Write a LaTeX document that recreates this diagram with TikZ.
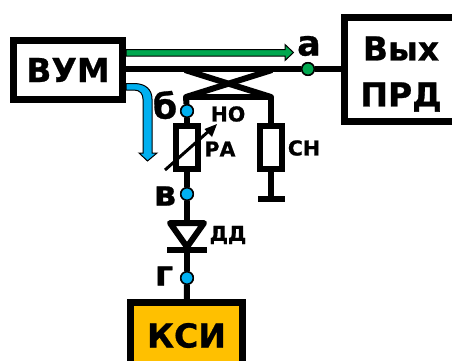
\documentclass[tikz,border=0pt]{standalone}
\usepackage{fontspec}
\setmainfont[BoldFeatures={FakeBold=0.8}]{DejaVu Sans}
\usetikzlibrary{positioning}
\definecolor{dotgreen}{HTML}{00A84F}
\definecolor{dotblue}{HTML}{00B0F0}
\definecolor{boxyellow}{HTML}{FFC000}
\tikzstyle{block} = [rectangle, line width=7pt, draw=black, fill=white, inner sep=0pt, align=center, font=\bfseries\fontsize{33}{41}\selectfont]
\tikzstyle{resistor} = [rectangle, line width=6pt, draw=black, fill=white, minimum width=22pt, minimum height=43pt, inner sep=0pt]
\tikzstyle{point} = [circle, line width=1.5pt, draw=black, inner sep=0pt, minimum size=12.5pt]
\tikzstyle{wire} = [line width=6pt, draw=black]
\tikzstyle{bigtext} = [inner sep=0pt, font=\bfseries\fontsize{35}{40}\selectfont]
\tikzstyle{smalltext} = [inner sep=0pt, font=\bfseries\fontsize{20.5}{24}\selectfont]

\begin{document}
\begin{tikzpicture}[x=1pt,y=-1pt]

        \useasboundingbox (0,0) rectangle (452,360);
        \clip (0,0) rectangle (452,360);

        \node (vum) [block, minimum width=109pt, minimum height=59pt] at (68,70) {ВУМ};
        \node (prd) [block, minimum width=130pt, minimum height=104pt, anchor=west] at (341,69.5) {};
        \node (prdtext) at (401,74) [inner sep=0pt, align=center, font=\bfseries\fontsize{33}{46}\selectfont] {Вых\\ПРД};
        \node (ksi) [block, fill=boxyellow, minimum width=112pt, minimum height=66pt, anchor=north] at (186.5,299) {КСИ};

        \node (pa) [resistor] at (187,147.5) {};
        \node (sn) [resistor] at (271,147.5) {};

        \node (pta) [point, fill=dotgreen] at (308,69) {};
        \node (ptb) [point, fill=dotblue] at (187,111) {};
        \node (ptv) [point, fill=dotblue] at (187,194) {};
        \node (ptg) [point, fill=dotblue] at (187,278) {};

        \coordinate (crossl) at (186,97);
        \coordinate (crossr) at (271,97);
        \coordinate (snend) at (271,199);
        \coordinate (ditop) at (187,222);
        \coordinate (dibot) at (187,250);

        % lines
        \draw [wire] (vum.east |- pta) -- (pta);
        \draw [wire] (pta) -- (prd.west |- pta);
        \draw [wire] (185,70) -- (crossr);
        \draw [wire] (272,70) -- (crossl);
        \draw [wire, line cap=round] (crossl) -- (crossr);
        \draw [wire] (crossl) -- (ptb);
        \draw [wire] (ptb) -- (pa);
        \draw [wire] (crossr) -- (sn);
        \draw [wire] (pa) -- (ptv);
        \draw [wire] (ptv) -- (ditop);
        \draw [wire] (dibot) -- (ptg);
        \draw [wire] (ptg) -- (ksi);
        \draw [wire] (sn) -- (snend);
        \draw [wire] (258,199) -- (285,199);
        \node at (pta) [point, fill=dotgreen] {};
        \node at (ptb) [point, fill=dotblue] {};
        \node at (ptv) [point, fill=dotblue] {};
        \node at (ptg) [point, fill=dotblue] {};

        % diode
        \draw [line width=6pt, line join=round, fill=white] (170,223) -- (204,223) -- (187,247) -- cycle;
        \draw [wire] (167,250) -- (207,250);

        % resistor arrow
        \draw [line width=3pt] (165,170) -- (210,130);
        \fill (217,124) -- (204.5,129) -- (212,137) -- cycle;

        % signal arrows
        \draw [line width=1pt, fill=dotgreen] (126,49.5) -- (285,49.5) -- (285,44.5) -- (293.5,52.5) -- (285,60.5) -- (285,56) -- (126,56) -- cycle;
        \draw [line width=1pt, fill=dotblue] (126,83.5) -- (134,83.5) .. controls (146,83.5) and (152,90) .. (152,99) -- (152,153) -- (157,153) -- (147.5,161) -- (139,153) -- (143,153) -- (143,99) .. controls (143,94) and (140,90) .. (134,90) -- (126,90) -- cycle;

        % labels
        \node (laba) [bigtext] at (309,46) {а};
        \node (labb) [bigtext] at (165,105) {б};
        \node (labv) [bigtext] at (165,196) {в};
        \node (labg) [bigtext] at (164,276) {г};
        \node (labno) [smalltext] at (228,114) {НО};
        \node (labpa) [smalltext] at (220,149) {РА};
        \node (labsn) [smalltext] at (304,148) {СН};
        \node (labdd) [smalltext] at (228,235) {ДД};

\end{tikzpicture}
\end{document}
